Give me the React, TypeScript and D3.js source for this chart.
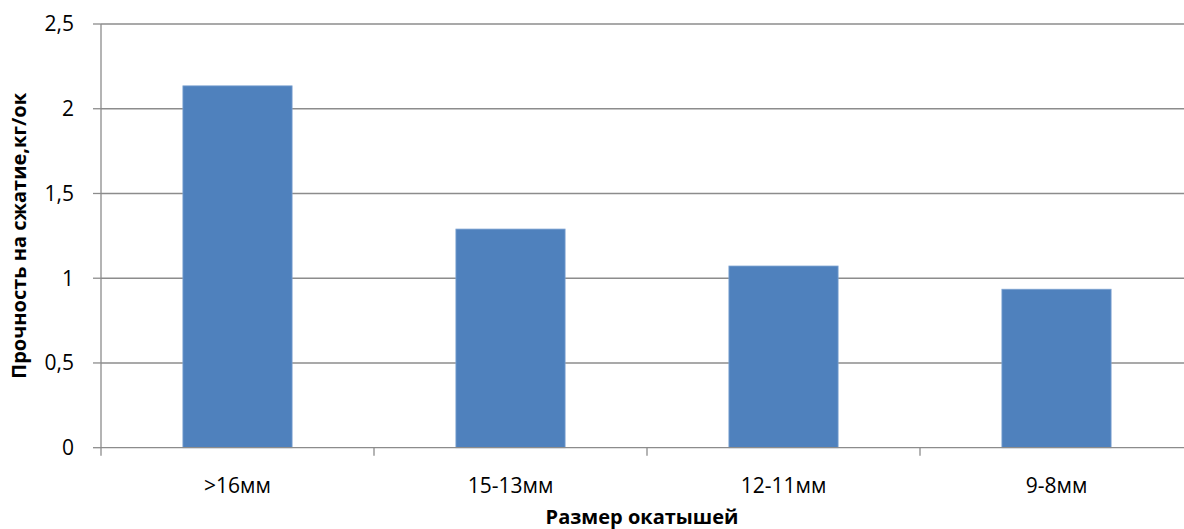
import React from "react";
import * as d3 from "d3";

const categories = [">16мм", "15-13мм", "12-11мм", "9-8мм"];
const strength = [2.135, 1.29, 1.072, 0.935];
const yTicks = [0, 0.5, 1, 1.5, 2, 2.5];
const yTickLabels = ["0", "0,5", "1", "1,5", "2", "2,5"];
const xTitle = "Размер окатышей";
const yTitle = "Прочность на сжатие,кг/ок";

const W = 1184;
const H = 529;
const left = 101;
const right = 1193;
const top = 24;
const bottom = 447.7;

export default function App() {
  const x = d3.scaleBand<string>().domain(categories).range([left, right]).paddingInner(0.6).paddingOuter(0.3);
  const y = d3.scaleLinear().domain([0, 2.5]).range([bottom, top]);
  const step = (right - left) / categories.length;
  const font = "'Open Sans', 'Noto Sans', sans-serif";
  const grid = "#8c8c8c";

  return (
    <svg width={W} height={H} style={{ position: "absolute", left: 0, top: 0, background: "#fff" }}>
      {yTicks.map((t, i) => (
        <g key={t}>
          {t > 0 && <line x1={left} x2={right} y1={y(t)} y2={y(t)} stroke={grid} strokeWidth={1.6} />}
          <line x1={left - 8} x2={left} y1={y(t)} y2={y(t)} stroke={grid} strokeWidth={1.3} />
          <text x={74} y={y(t)} dy="0.35em" textAnchor="end" fontFamily={font} fontSize={21} fill="#000">
            {yTickLabels[i]}
          </text>
        </g>
      ))}
      {categories.map((c, i) => (
        <rect
          key={c}
          x={x(c)}
          y={y(strength[i])}
          width={x.bandwidth()}
          height={bottom - y(strength[i])}
          fill="#4F81BD"
          stroke="#7ea3d2"
          strokeWidth={0.8}
        />
      ))}
      <line x1={left} x2={left} y1={top} y2={bottom} stroke={grid} strokeWidth={1.3} />
      <line x1={left} x2={right} y1={bottom} y2={bottom} stroke={grid} strokeWidth={1.3} />
      {d3.range(categories.length + 1).map((i) => (
        <line key={i} x1={left + i * step} x2={left + i * step} y1={bottom} y2={bottom + 8} stroke={grid} strokeWidth={1.3} />
      ))}
      {categories.map((c) => (
        <text key={c} x={x(c)! + x.bandwidth() / 2} y={486} dy="0.35em" textAnchor="middle" fontFamily={font} fontSize={21} fill="#000">
          {c}
        </text>
      ))}
      <text x={(left + right) / 2 - 5} y={517} dy="0.35em" textAnchor="middle" fontFamily={font} fontSize={20} fontWeight="bold" fill="#000">
        {xTitle}
      </text>
      <text
        transform={`translate(19, ${(top + bottom) / 2}) rotate(-90)`}
        dy="0.35em"
        textAnchor="middle"
        fontFamily={font}
        fontSize={20}
        fontWeight="bold"
        fill="#000"
      >
        {yTitle}
      </text>
    </svg>
  );
}
